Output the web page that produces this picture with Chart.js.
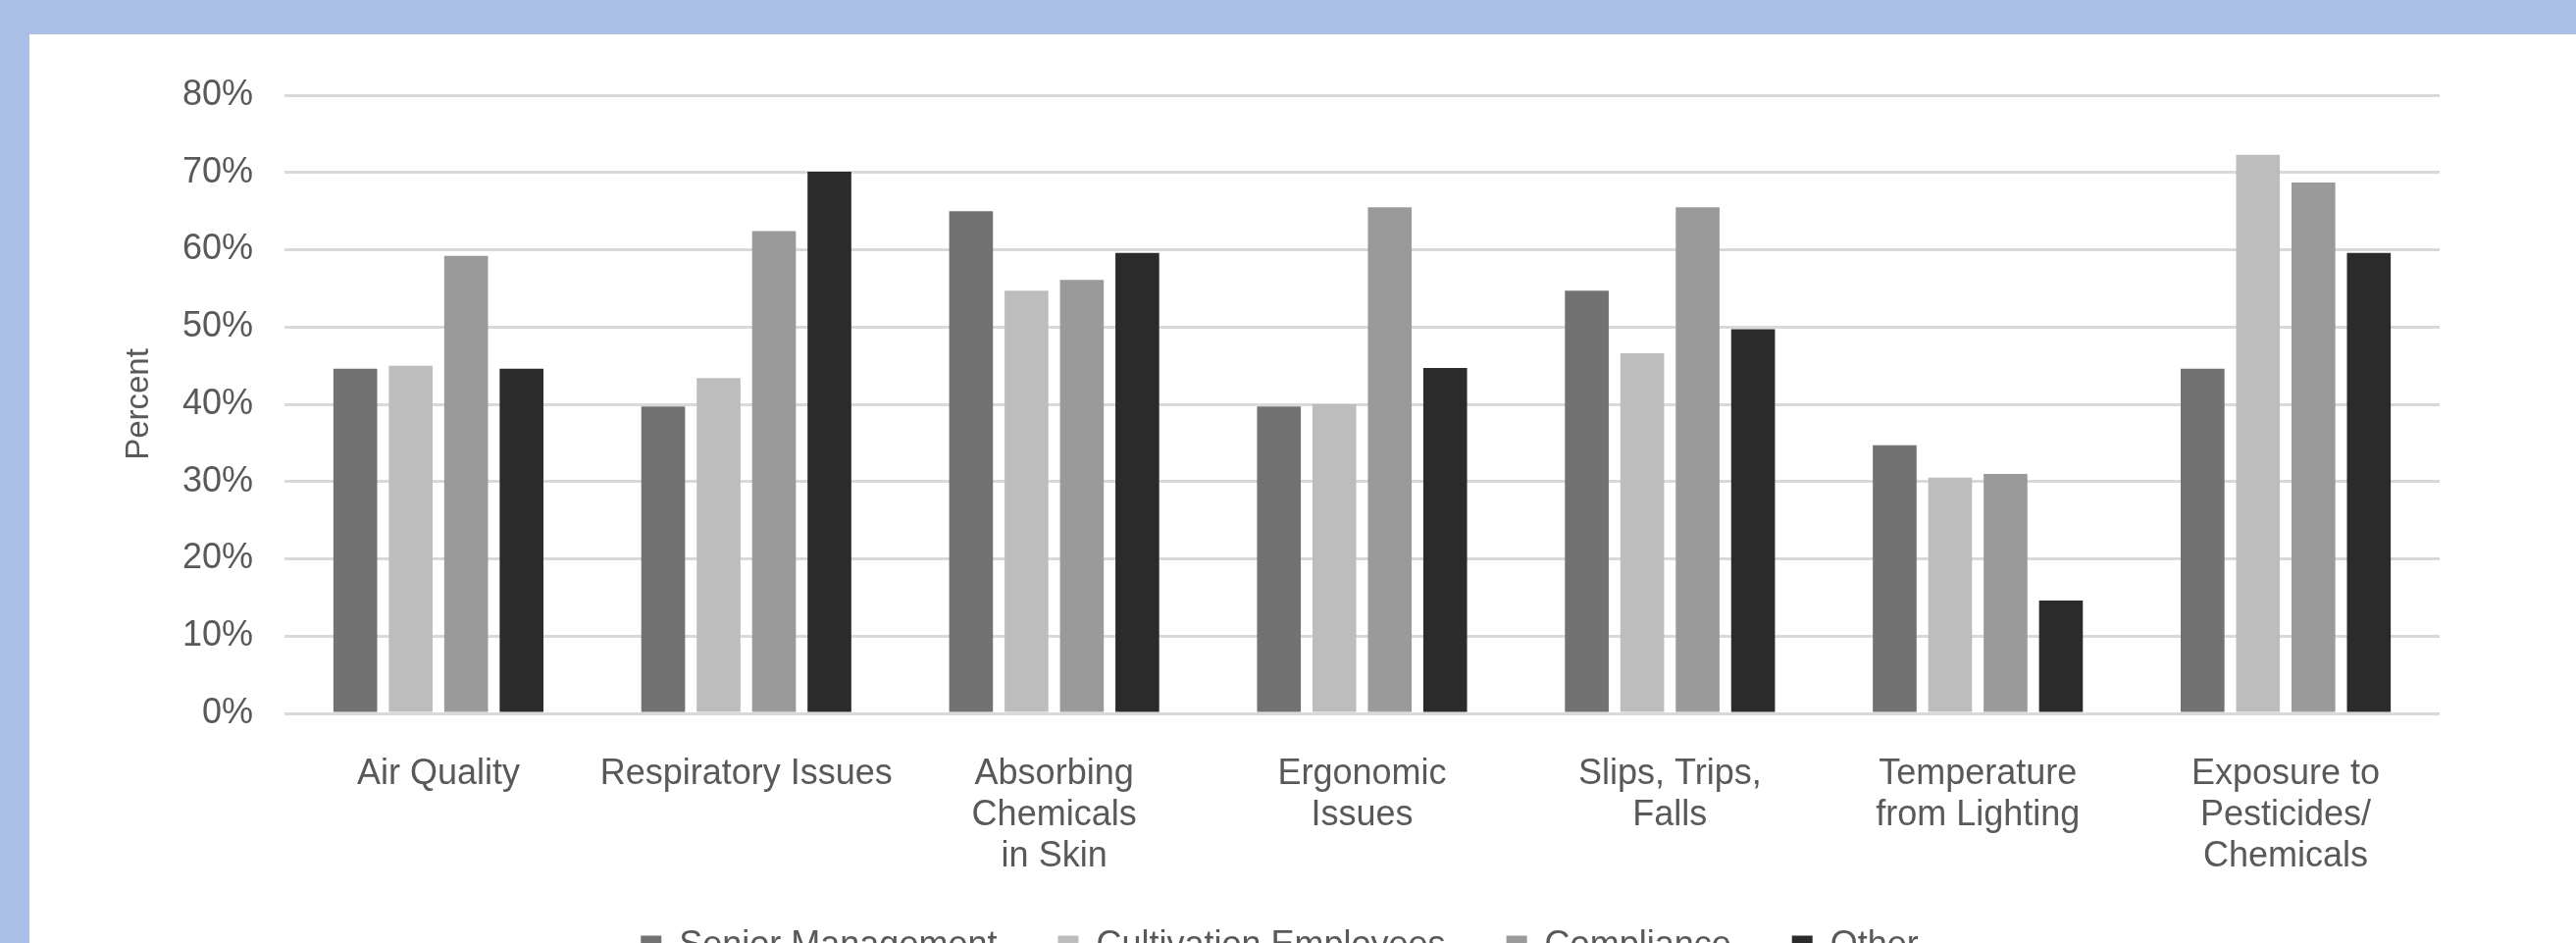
<!DOCTYPE html>
<html>
<head>
<meta charset="utf-8">
<script src="https://cdn.jsdelivr.net/npm/chart.js@4"></script>
<style>
  html, body { margin: 0; padding: 0; width: 2626px; height: 961px; overflow: hidden; background: #aabfe5; }
  #panel { position: absolute; left: 30px; top: 35px; width: 2596px; height: 960px; background: #ffffff; }
  #panel canvas { display: block; }
</style>
</head>
<body>
<div id="panel"><canvas id="chart"></canvas></div>
<script>
// Workplace hazard concerns by respondent role (percent)
const categories = [
  'Air Quality',
  'Respiratory Issues',
  ['Absorbing', 'Chemicals', 'in Skin'],
  ['Ergonomic', 'Issues'],
  ['Slips, Trips,', 'Falls'],
  ['Temperature', 'from Lighting'],
  ['Exposure to', 'Pesticides/', 'Chemicals']
];
const seriesNames = ['Senior Management', 'Cultivation Employees', 'Compliance', 'Other'];
const seniorManagement     = [44.6, 39.7, 65.0, 39.7, 54.7, 34.7, 44.6];
const cultivationEmployees = [45.0, 43.4, 54.7, 40.0, 46.6, 30.5, 72.3];
const compliance           = [59.2, 62.4, 56.1, 65.5, 65.5, 31.0, 68.7];
const other                = [44.6, 70.1, 59.6, 44.7, 49.7, 14.6, 59.6];
const yTicks = [0, 10, 20, 30, 40, 50, 60, 70, 80];

const seriesValues = [seniorManagement, cultivationEmployees, compliance, other];
const seriesColors = ['#727272', '#bdbdbd', '#9a9a9a', '#2b2b2b'];

const FONT = '"Liberation Sans", Arial, Helvetica, sans-serif';
const TEXT = '#595959';

const canvas = document.getElementById('chart');
canvas.width = 2596;
canvas.height = 960;

// Let the multi-line category labels run past the x-axis box instead of being clipped.
const unclipCategoryLabels = {
  id: 'unclipCategoryLabels',
  beforeDraw(chart) {
    chart.scales.x._computeLabelArea = () => undefined;
  }
};

new Chart(canvas, {
  type: 'bar',
  data: {
    labels: categories,
    datasets: seriesNames.map((name, i) => ({
      label: name,
      data: seriesValues[i],
      backgroundColor: seriesColors[i],
      borderWidth: 0,
      categoryPercentage: 0.72,
      barPercentage: 0.79
    }))
  },
  plugins: [unclipCategoryLabels],
  options: {
    responsive: false,
    animation: false,
    devicePixelRatio: 1,
    layout: { padding: { left: 92, right: 139, top: 62, bottom: 3 } },
    plugins: {
      tooltip: { enabled: false },
      legend: {
        position: 'bottom',
        labels: {
          boxWidth: 21,
          boxHeight: 21,
          padding: 62,
          color: TEXT,
          font: { family: FONT, size: 36 }
        }
      }
    },
    scales: {
      x: {
        offset: true,
        grid: { display: false },
        border: { display: false },
        ticks: {
          color: TEXT,
          padding: 33,
          maxRotation: 0,
          autoSkip: false,
          font: { family: FONT, size: 36, lineHeight: 1.17 }
        },
        afterFit(scale) { scale.height = 157; }
      },
      y: {
        min: 0,
        max: 80,
        afterBuildTicks(scale) { scale.ticks = yTicks.map(v => ({ value: v })); },
        grid: { color: '#d9d9d9', lineWidth: 3, drawTicks: false },
        border: { display: false },
        ticks: {
          color: TEXT,
          padding: 32,
          font: { family: FONT, size: 36 },
          callback: v => v + '%'
        },
        title: {
          display: true,
          text: 'Percent',
          color: TEXT,
          padding: 0,
          font: { family: FONT, size: 33 }
        },
        afterFit(scale) { scale.width = 168; }
      }
    }
  }
});
</script>
</body>
</html>
